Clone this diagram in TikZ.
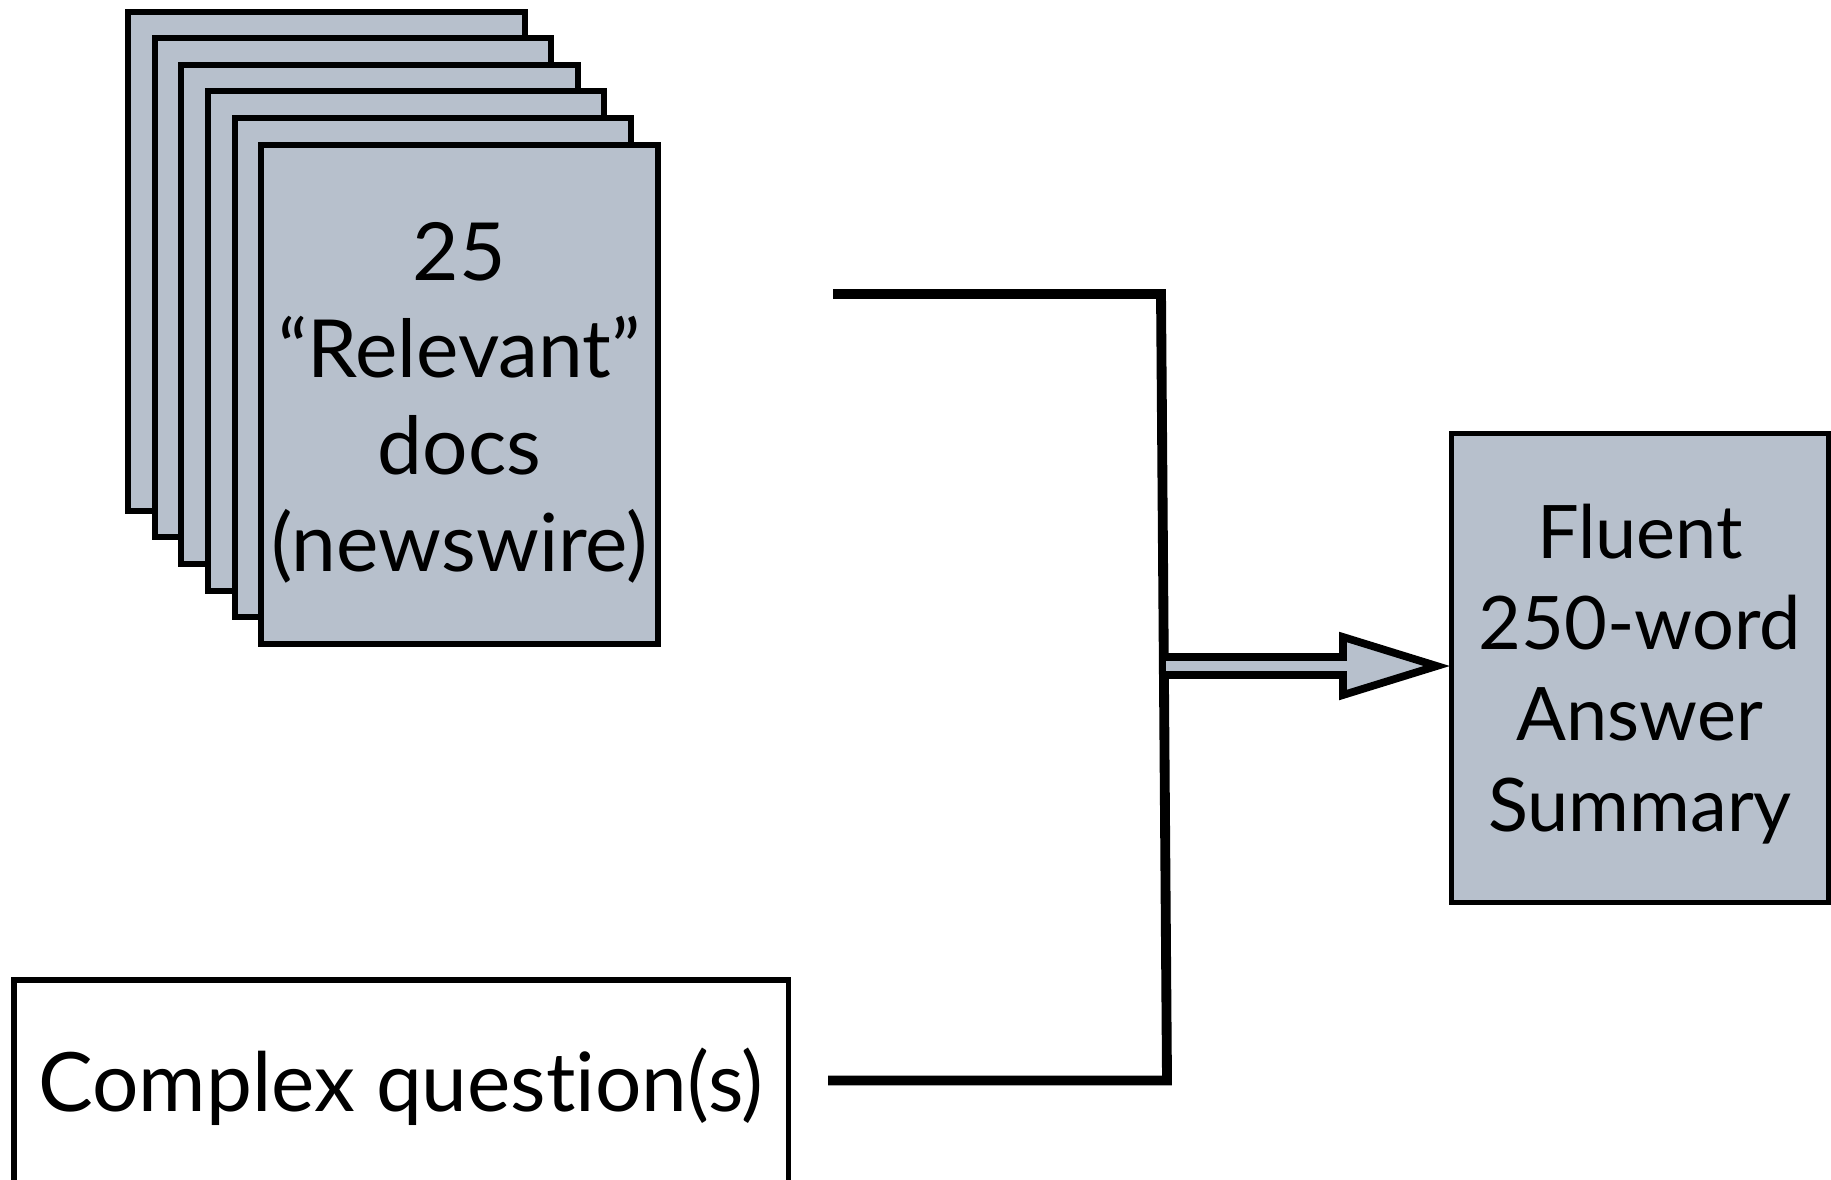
\documentclass[tikz,border=0pt]{standalone}
\usepackage{fontspec}
\setmainfont{Lato}[Ligatures=NoCommon]
\usepackage{tikz}
\usetikzlibrary{positioning, calc}

\definecolor{pagefill}{RGB}{183,192,204}

\begin{document}
\begin{tikzpicture}[
    x=0.01cm, y=-0.01cm,
    page/.style={
        rectangle,
        draw=black,
        line width=1.7pt,
        fill=pagefill,
        minimum width=3.96cm,
        minimum height=4.99cm,
        inner sep=0pt
    },
    doctext/.style={
        align=center,
        inner sep=0pt,
        font=\fontsize{22.8}{27.6}\selectfont
    },
    resultbox/.style={
        rectangle,
        draw=black,
        line width=1.5pt,
        fill=pagefill,
        minimum width=3.77cm,
        minimum height=4.69cm,
        inner sep=0pt
    },
    resulttext/.style={
        align=center,
        inner sep=0pt,
        font=\fontsize{21}{25.9}\selectfont
    },
    inputbox/.style={
        rectangle,
        draw=black,
        line width=1.55pt,
        minimum width=7.74cm,
        minimum height=2.14cm,
        inner sep=0pt,
        font=\fontsize{23.3}{28}\selectfont
    },
    wire/.style={line width=2.8pt, line join=miter},
    fatarrow/.style={draw=black, line width=2.2pt, line join=miter}
]
    % canvas
    \useasboundingbox (0,0) rectangle (1831,1179);

    % Stack of document pages (back to front)
    \foreach \i in {0,...,5}
        \node[page] (page\i) at ({326.4+26.6*\i}, {261.2+26.6*\i}) {};
    \node[doctext] (docs) at ($(page5.center)+(0,9)$) {25\\“Relevant”\\docs\\(newswire)};

    % Question input (bottom edge runs off the canvas)
    \node[inputbox] (quest) at (401, 1087) {Complex question(s)};

    % Output summary
    \node[resultbox] (summary) at (1640, 668) {};
    \node[resulttext] (sumtext) at ($(summary.center)+(0,6)$) {Fluent\\250-word\\Answer\\Summary};

    % Joining wires
    \coordinate (docsout) at (833, 294);
    \coordinate (questout) at (828, 1080.5);
    \coordinate (topbend) at (1161, 294);
    \coordinate (botbend) at (1167, 1080.5);
    \coordinate (join) at (1166, 666);
    \draw[wire] (docsout) -- (topbend) -- (botbend) -- (questout);

    % Fat arrow into the summary
    \coordinate (tip) at ($(summary.west)+(-12,-2)$);
    \coordinate (headback) at (1343, 666);
    \fill[pagefill] ($(join)+(0,-9)$) -- ($(headback)+(0,-9)$) -- ($(headback)+(0,-29)$)
        -- (tip) -- ($(headback)+(0,29)$) -- ($(headback)+(0,9)$) -- ($(join)+(0,9)$) -- cycle;
    \draw[fatarrow] ($(join)+(0,-9)$) -- ($(headback)+(0,-9)$) -- ($(headback)+(0,-29)$)
        -- (tip) -- ($(headback)+(0,29)$) -- ($(headback)+(0,9)$) -- ($(join)+(0,9)$);
\end{tikzpicture}
\end{document}
